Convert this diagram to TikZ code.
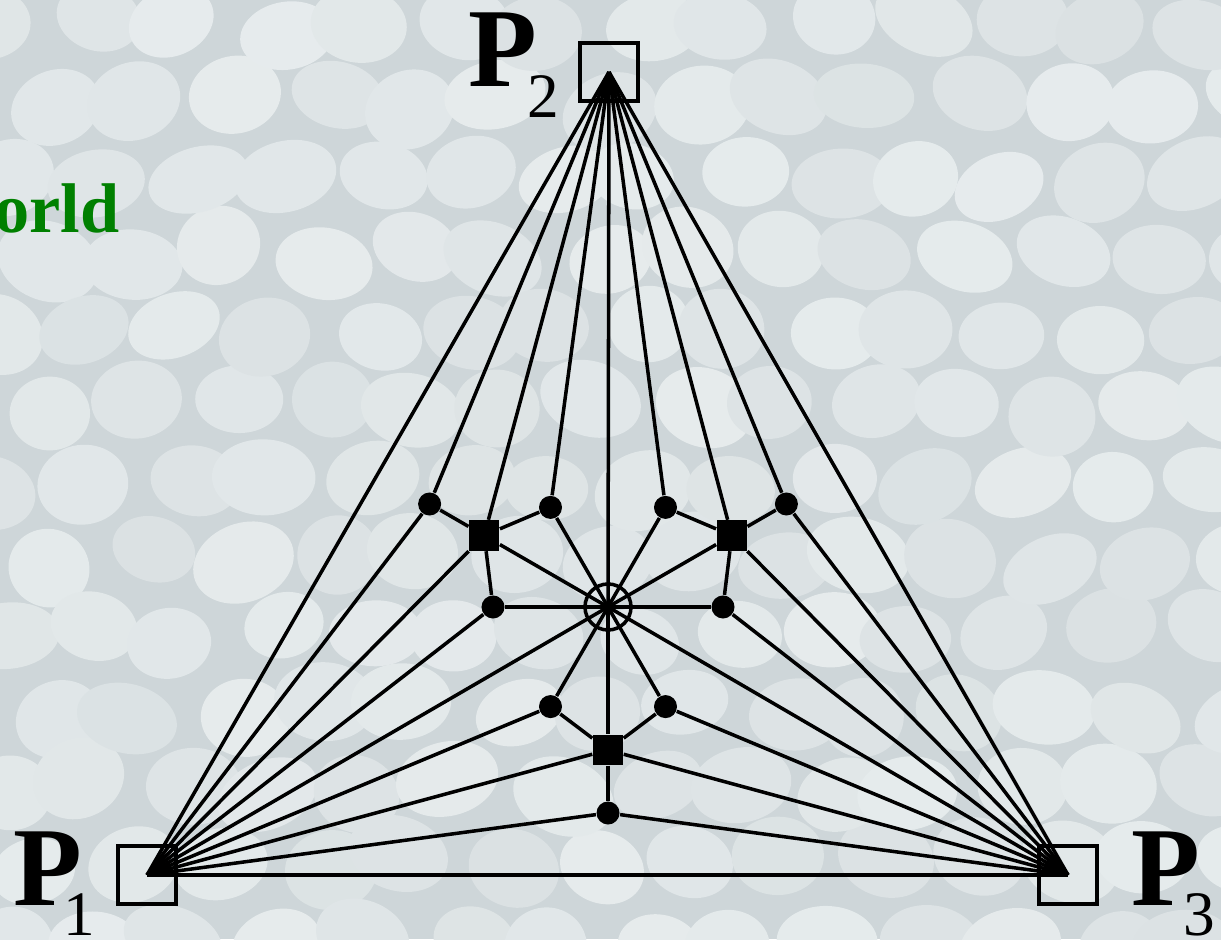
\documentclass[tikz,border=0pt]{standalone}
\usepackage{fontspec}
\setmainfont{Liberation Serif}
\definecolor{stonebg}{RGB}{206,214,217}
\definecolor{pebble}{RGB}{232,237,238}
\definecolor{worldgreen}{RGB}{0,128,0}
\newcommand{\psub}[1]{\raisebox{-0.30cm}{\fontsize{18}{18}\selectfont\mdseries #1}}

\begin{document}
\begin{tikzpicture}[x=0.01cm,y=0.01cm,
  vertex/.style={rectangle,draw,line width=1pt,minimum size=0.58cm,inner sep=0pt},
  hub/.style={circle,draw,line width=1pt,minimum size=0.46cm,inner sep=0pt},
  dot/.style={circle,fill,minimum size=0.23cm,inner sep=0pt},
  blk/.style={rectangle,fill,minimum size=0.30cm,inner sep=0pt},
  edge/.style={line width=1pt},
  plabel/.style={inner sep=0pt,font=\fontsize{32}{32}\selectfont\bfseries}
]
% stone background
\useasboundingbox (0,0) rectangle (1221,939);
\clip (0,0) rectangle (1221,939);
\fill[stonebg] (0,0) rectangle (1221,939);
\pgfmathsetseed{17}
\foreach \i in {0,...,13} {
  \foreach \j in {0,...,12} {
    \pgfmathsetmacro{\px}{\i*92+mod(\j,2)*46+rand*16}
    \pgfmathsetmacro{\py}{\j*76+rand*10}
    \pgfmathsetmacro{\ang}{rand*25}
    \pgfmathsetmacro{\rx}{46+rand*6}
    \pgfmathsetmacro{\ry}{36+rand*4}
    \pgfmathtruncatemacro{\mix}{72+rand*22}
    \fill[pebble!\mix!stonebg,rotate around={\ang:(\px,\py)}]
      (\px,\py) ellipse [x radius=\rx, y radius=\ry];
  }
}

\node[font=\fontsize{20}{20}\selectfont\bfseries,text=worldgreen,inner sep=0pt,anchor=base east] (ttl) at (120,706) {orld};

% corners
\node[vertex] (P1) at (147,64) {};
\node[vertex] (P2) at (609,867) {};
\node[vertex] (P3) at (1068,64) {};
\node[plabel,anchor=base west] (L1) at (13,34) {P\kern-0.19cm\psub{1}};
\node[plabel,anchor=base west] (L2) at (468,852) {P\kern-0.10cm\psub{2}};
\node[plabel,anchor=base west] (L3) at (1131,34) {P\kern-0.17cm\psub{3}};

% centre and inner ring
\node[hub] (O) at (608,332) {};
\node[dot] (a0) at (723,332) {};
\node[dot] (a60) at (665.5,431.6) {};
\node[dot] (a120) at (550.5,431.6) {};
\node[dot] (a180) at (493,332) {};
\node[dot] (a240) at (550.5,232.4) {};
\node[dot] (a300) at (665.5,232.4) {};
\node[blk] (s30) at (731.8,403.5) {};
\node[blk] (s150) at (484.2,403.5) {};
\node[blk] (s270) at (608,189) {};
\node[dot] (b30) at (786.4,435) {};
\node[dot] (b150) at (429.6,435) {};
\node[dot] (b270) at (608,126) {};

\draw[edge] (P1.center)--(P2.center);
\draw[edge] (P2.center)--(P3.center);
\draw[edge] (P3.center)--(P1.center);

\draw[edge] (O.center)--(P1.center);
\draw[edge] (O.center)--(P2.center);
\draw[edge] (O.center)--(P3.center);
\draw[edge] (O.center)--(a0);
\draw[edge] (O.center)--(a60);
\draw[edge] (O.center)--(a120);
\draw[edge] (O.center)--(a180);
\draw[edge] (O.center)--(a240);
\draw[edge] (O.center)--(a300);
\draw[edge] (O.center)--(s30);
\draw[edge] (O.center)--(s150);
\draw[edge] (O.center)--(s270);

\draw[edge] (s30)--(b30);
\draw[edge] (s30)--(a0);
\draw[edge] (s30)--(a60);
\draw[edge] (s30)--(P2.center);
\draw[edge] (s30)--(P3.center);
\draw[edge] (s150)--(b150);
\draw[edge] (s150)--(a120);
\draw[edge] (s150)--(a180);
\draw[edge] (s150)--(P1.center);
\draw[edge] (s150)--(P2.center);
\draw[edge] (s270)--(b270);
\draw[edge] (s270)--(a240);
\draw[edge] (s270)--(a300);
\draw[edge] (s270)--(P1.center);
\draw[edge] (s270)--(P3.center);

\draw[edge] (b30)--(P2.center);
\draw[edge] (b30)--(P3.center);
\draw[edge] (b150)--(P1.center);
\draw[edge] (b150)--(P2.center);
\draw[edge] (b270)--(P1.center);
\draw[edge] (b270)--(P3.center);

\draw[edge] (a0)--(P3.center);
\draw[edge] (a60)--(P2.center);
\draw[edge] (a120)--(P2.center);
\draw[edge] (a180)--(P1.center);
\draw[edge] (a240)--(P1.center);
\draw[edge] (a300)--(P3.center);
\end{tikzpicture}
\end{document}
